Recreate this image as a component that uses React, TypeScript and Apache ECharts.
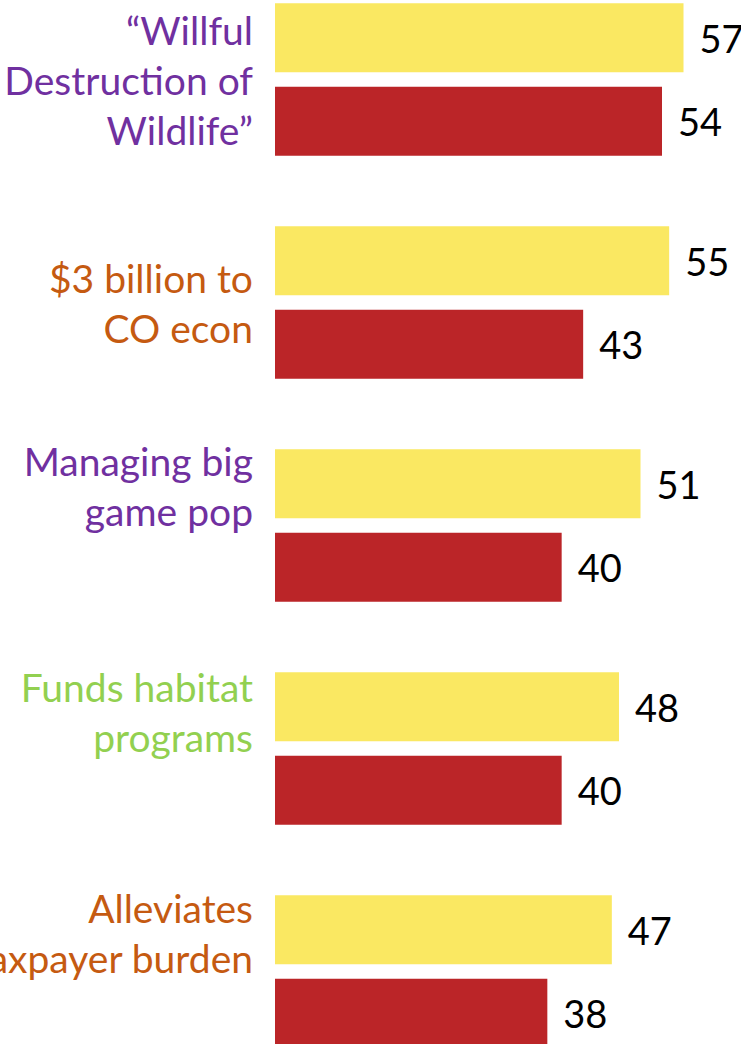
import React, { useEffect, useRef } from "react";
import * as echarts from "echarts";

const categories = [
  "“Willful\nDestruction of\nWildlife”",
  "$3 billion to\nCO econ",
  "Managing big\ngame pop",
  "Funds habitat\nprograms",
  "Alleviates\ntaxpayer burden",
];
const labelColors = ["#7030A0", "#C55A11", "#7030A0", "#92D050", "#C55A11"];
const yellowValues = [57, 55, 51, 48, 47];
const redValues = [54, 43, 40, 40, 38];
// how far each category label sits above the centre of its bars (px)
const labelLift = [0, 0, 40, 37, 39];

const FONT = "Lato";

export default function App() {
  const ref = useRef<HTMLDivElement>(null);
  useEffect(() => {
    if (!ref.current) return;
    const chart = echarts.init(ref.current, undefined, { renderer: "svg" });
    const labelStyle = {
      show: true,
      position: "right" as const,
      distance: 16,
      fontSize: 38,
      fontFamily: FONT,
      color: "#000000",
    };
    const rich: Record<string, any> = {};
    labelColors.forEach((c, i) => {
      rich["c" + i] = {
        color: c,
        fontSize: 39,
        lineHeight: 50,
        fontFamily: FONT,
        align: "right",
      };
      rich["s" + i] = {
        fontSize: 1,
        lineHeight: labelLift[i] * 2,
        height: labelLift[i] * 2,
        align: "right",
      };
    });
    chart.setOption({
      animation: false,
      backgroundColor: "#ffffff",
      grid: {
        left: 275,
        right: 36,
        top: -32,
        bottom: -39,
        containLabel: false,
        outerBoundsMode: "none",
      },
      xAxis: {
        type: "value",
        min: 0,
        max: 60,
        show: false,
      },
      yAxis: {
        type: "category",
        data: categories,
        inverse: true,
        axisLine: { show: false },
        axisTick: { show: false },
        splitLine: { show: false },
        axisLabel: {
          margin: 22,
          fontSize: 39,
          lineHeight: 50,
          fontFamily: FONT,
          align: "right",
          rich,
          formatter: (v: string, i: number) => {
            const lines = v.split("\n").map((l) => `{c${i}|${l}}`);
            if (labelLift[i] > 0) lines.push(`{s${i}| }`);
            return lines.join("\n");
          },
        },
      },
      series: [
        {
          type: "bar",
          data: yellowValues,
          barWidth: 69,
          barGap: "21%",
          itemStyle: { color: "#FAE862" },
          label: labelStyle,
        },
        {
          type: "bar",
          data: redValues,
          barWidth: 69,
          barGap: "21%",
          itemStyle: { color: "#BB2528" },
          label: labelStyle,
        },
      ],
    });
    return () => chart.dispose();
  }, []);
  return (
    <div
      ref={ref}
      style={{ position: "absolute", left: 0, top: 0, width: 741, height: 1044 }}
    />
  );
}
